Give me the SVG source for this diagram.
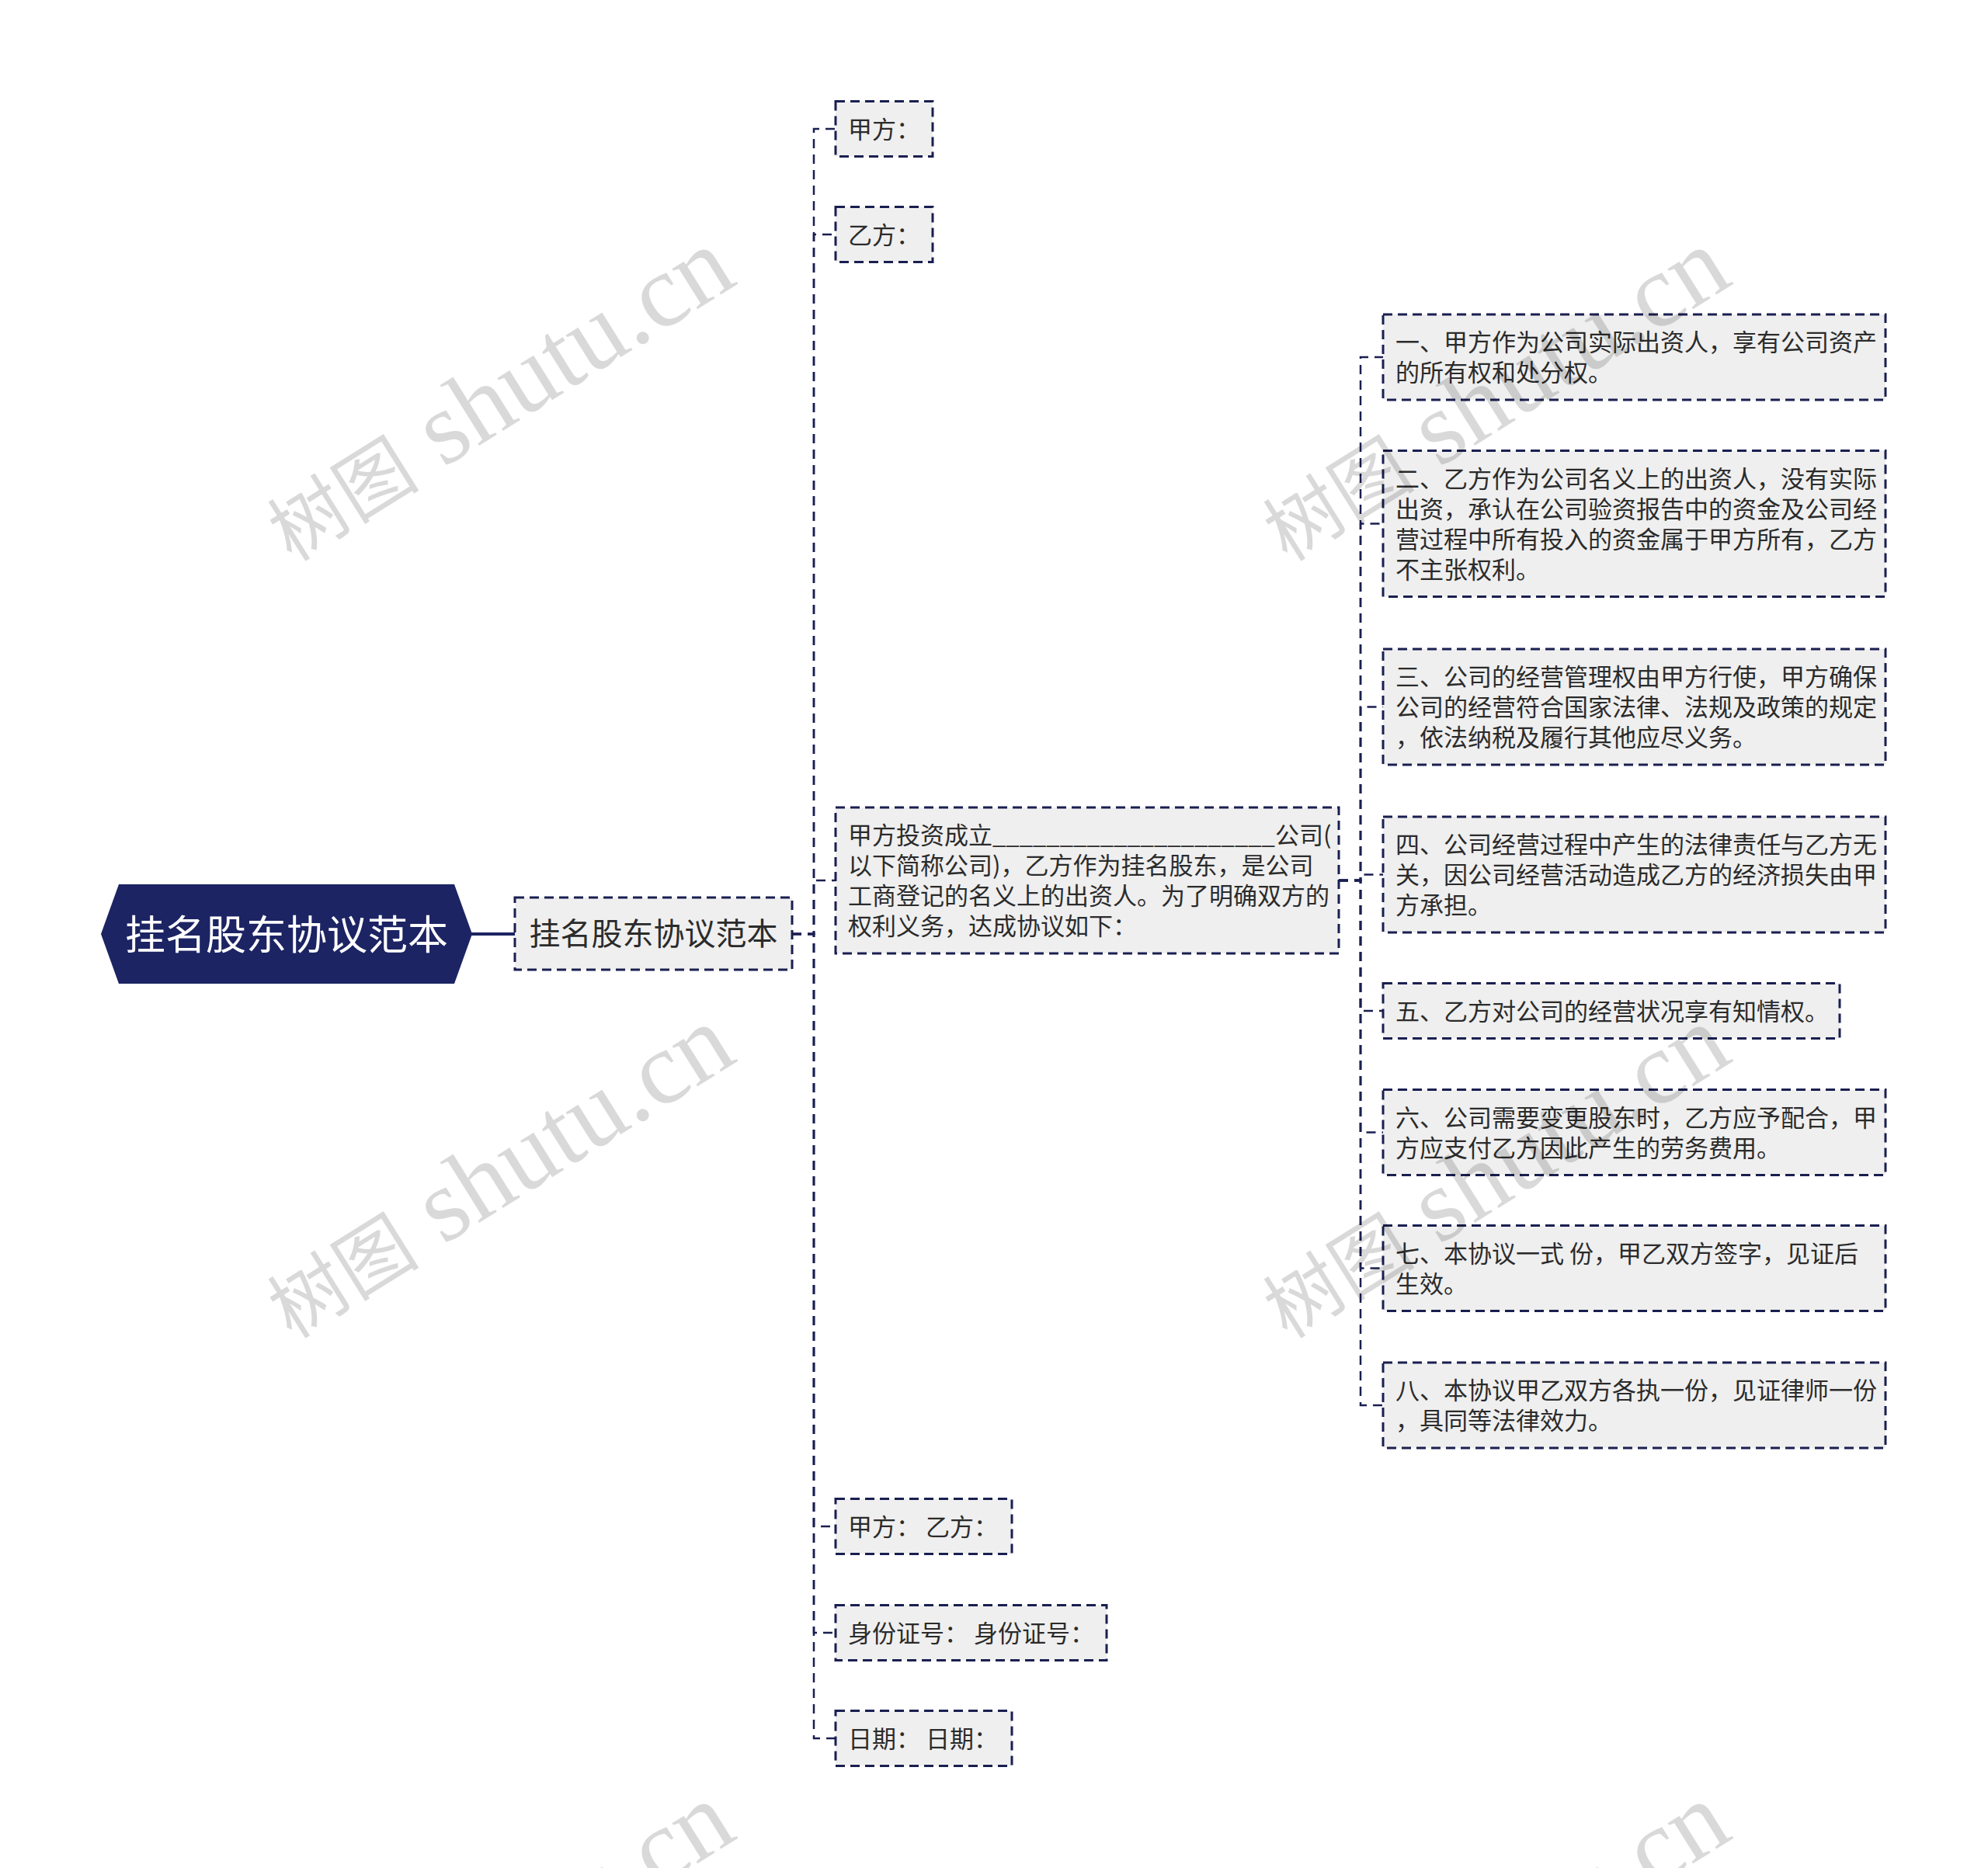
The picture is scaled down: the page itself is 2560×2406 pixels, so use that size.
<svg xmlns="http://www.w3.org/2000/svg" width="2560" height="2406" viewBox="0 0 2560 2406">
<style>
.box{fill:#efefef;stroke:#1a1f50;stroke-width:3;stroke-dasharray:12 7}
.t{font-family:"Noto Sans CJK SC","Noto Sans",sans-serif;font-size:31px;fill:#2b2b2b}
.t1{font-family:"Noto Sans CJK SC","Noto Sans",sans-serif;font-size:40px;fill:#2b2b2b}
.t0{font-family:"Noto Sans CJK SC","Noto Sans",sans-serif;font-size:52px;fill:#ffffff}
.conn{fill:none;stroke:#1a1f50;stroke-width:2.5;stroke-dasharray:12 8}
.wm{font-family:"Liberation Serif","Noto Sans CJK SC",serif;font-size:134px;fill:#000000;fill-opacity:0.15}
.wmc{font-size:98px}
</style>
<rect x="0" y="0" width="2560" height="2406" fill="#ffffff"/>
<g id="connectors">
<line x1="607" y1="1203" x2="663" y2="1203" stroke="#1c2463" stroke-width="4"/>
<path class="conn" d="M1020,1203 H1048 V166 H1076"/>
<path class="conn" d="M1020,1203 H1048 V302 H1076"/>
<path class="conn" d="M1020,1203 H1048 V1134 H1076"/>
<path class="conn" d="M1020,1203 H1048 V1966 H1076"/>
<path class="conn" d="M1020,1203 H1048 V2103 H1076"/>
<path class="conn" d="M1020,1203 H1048 V2239 H1076"/>
<path class="conn" d="M1724,1134 H1752 V460 H1781"/>
<path class="conn" d="M1724,1134 H1752 V674.5 H1781"/>
<path class="conn" d="M1724,1134 H1752 V910.5 H1781"/>
<path class="conn" d="M1724,1134 H1752 V1126.5 H1781"/>
<path class="conn" d="M1724,1134 H1752 V1302 H1781"/>
<path class="conn" d="M1724,1134 H1752 V1458.5 H1781"/>
<path class="conn" d="M1724,1134 H1752 V1633.5 H1781"/>
<path class="conn" d="M1724,1134 H1752 V1810 H1781"/>
</g>
<g id="root">
<polygon points="130,1203 153,1139 585,1139 608,1203 585,1267 153,1267" fill="#1c2463"/>
<text class="t0" x="369" y="1223" text-anchor="middle">挂名股东协议范本</text>
</g>
<g id="n-main">
<rect class="box" x="663" y="1156" width="357" height="93"/>
<text class="t1" x="841.5" y="1217" text-anchor="middle">挂名股东协议范本</text>
</g>
<g id="n-jia">
<rect class="box" x="1076" y="130.5" width="125" height="71"/>
<text class="t" x="1092" y="178">甲方：</text>
</g>
<g id="n-yi">
<rect class="box" x="1076" y="266.5" width="125" height="71"/>
<text class="t" x="1092" y="314">乙方：</text>
</g>
<g id="n-para">
<rect class="box" x="1076" y="1040" width="648" height="188"/>
<text class="t" x="1092" y="1087">甲方投资成立_____________________公司(</text>
<text class="t" x="1092" y="1126">以下简称公司)，乙方作为挂名股东，是公司</text>
<text class="t" x="1092" y="1165">工商登记的名义上的出资人。为了明确双方的</text>
<text class="t" x="1092" y="1204">权利义务，达成协议如下：</text>
</g>
<g id="n-c1">
<rect class="box" x="1781" y="405" width="647" height="110"/>
<text class="t" x="1797" y="452">一、甲方作为公司实际出资人，享有公司资产</text>
<text class="t" x="1797" y="491">的所有权和处分权。</text>
</g>
<g id="n-c2">
<rect class="box" x="1781" y="580.5" width="647" height="188"/>
<text class="t" x="1797" y="628">二、乙方作为公司名义上的出资人，没有实际</text>
<text class="t" x="1797" y="667">出资，承认在公司验资报告中的资金及公司经</text>
<text class="t" x="1797" y="706">营过程中所有投入的资金属于甲方所有，乙方</text>
<text class="t" x="1797" y="745">不主张权利。</text>
</g>
<g id="n-c3">
<rect class="box" x="1781" y="836" width="647" height="149"/>
<text class="t" x="1797" y="883">三、公司的经营管理权由甲方行使，甲方确保</text>
<text class="t" x="1797" y="922">公司的经营符合国家法律、法规及政策的规定</text>
<text class="t" x="1797" y="961">，依法纳税及履行其他应尽义务。</text>
</g>
<g id="n-c4">
<rect class="box" x="1781" y="1052" width="647" height="149"/>
<text class="t" x="1797" y="1099">四、公司经营过程中产生的法律责任与乙方无</text>
<text class="t" x="1797" y="1138">关，因公司经营活动造成乙方的经济损失由甲</text>
<text class="t" x="1797" y="1177">方承担。</text>
</g>
<g id="n-c5">
<rect class="box" x="1781" y="1266.5" width="588" height="71"/>
<text class="t" x="1797" y="1314">五、乙方对公司的经营状况享有知情权。</text>
</g>
<g id="n-c6">
<rect class="box" x="1781" y="1403.5" width="647" height="110"/>
<text class="t" x="1797" y="1451">六、公司需要变更股东时，乙方应予配合，甲</text>
<text class="t" x="1797" y="1490">方应支付乙方因此产生的劳务费用。</text>
</g>
<g id="n-c7">
<rect class="box" x="1781" y="1578.5" width="647" height="110"/>
<text class="t" x="1797" y="1626">七、本协议一式 份，甲乙双方签字，见证后</text>
<text class="t" x="1797" y="1665">生效。</text>
</g>
<g id="n-c8">
<rect class="box" x="1781" y="1755" width="647" height="110"/>
<text class="t" x="1797" y="1802">八、本协议甲乙双方各执一份，见证律师一份</text>
<text class="t" x="1797" y="1841">，具同等法律效力。</text>
</g>
<g id="n-sign">
<rect class="box" x="1076" y="1930.5" width="227" height="71"/>
<text class="t" x="1092" y="1978">甲方： 乙方：</text>
</g>
<g id="n-id">
<rect class="box" x="1076" y="2067.5" width="349" height="71"/>
<text class="t" x="1092" y="2115">身份证号： 身份证号：</text>
</g>
<g id="n-date">
<rect class="box" x="1076" y="2203.5" width="227" height="71"/>
<text class="t" x="1092" y="2251">日期： 日期：</text>
</g>
<g id="watermarks">
<text class="wm" transform="translate(645,514) rotate(-32)" x="0" y="36" text-anchor="middle"><tspan class="wmc">树图</tspan> shutu.cn</text>
<text class="wm" transform="translate(645,1515) rotate(-32)" x="0" y="36" text-anchor="middle"><tspan class="wmc">树图</tspan> shutu.cn</text>
<text class="wm" transform="translate(1927,514) rotate(-32)" x="0" y="36" text-anchor="middle"><tspan class="wmc">树图</tspan> shutu.cn</text>
<text class="wm" transform="translate(1927,1515) rotate(-32)" x="0" y="36" text-anchor="middle"><tspan class="wmc">树图</tspan> shutu.cn</text>
<text class="wm" transform="translate(645,2516) rotate(-32)" x="0" y="36" text-anchor="middle"><tspan class="wmc">树图</tspan> shutu.cn</text>
<text class="wm" transform="translate(1927,2516) rotate(-32)" x="0" y="36" text-anchor="middle"><tspan class="wmc">树图</tspan> shutu.cn</text>
</g>
</svg>
